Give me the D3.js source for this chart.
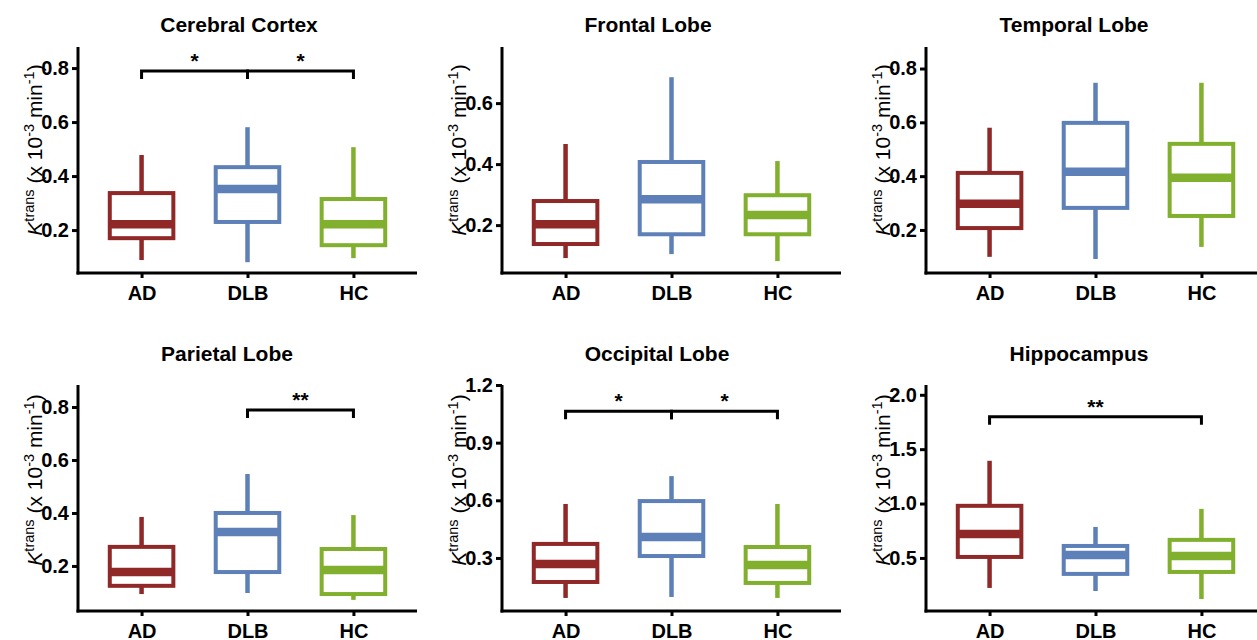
<!DOCTYPE html>
<html>
<head>
<meta charset="utf-8">
<script src="https://cdn.jsdelivr.net/npm/d3@7"></script>
<style>
  html, body { margin: 0; padding: 0; background: #fff; }
  svg { display: block; }
  text { font-family: "Liberation Sans", Arial, sans-serif; fill: #000; }
</style>
</head>
<body>
<svg id="chart" width="1257" height="640"></svg>
<script>
// ---------- data ----------
const categories = ["AD", "DLB", "HC"];
const panelTitles = ["Cerebral Cortex", "Frontal Lobe", "Temporal Lobe",
                     "Parietal Lobe", "Occipital Lobe", "Hippocampus"];
// per panel, per group (AD, DLB, HC)
const lowerWhisker = [[0.089, 0.081, 0.096], [0.092, 0.105, 0.082], [0.100, 0.092, 0.137],
                      [0.094, 0.098, 0.072], [0.092, 0.097, 0.092], [0.224, 0.196, 0.122]];
const q1 = [[0.170, 0.230, 0.144], [0.138, 0.170, 0.170], [0.207, 0.282, 0.252],
            [0.125, 0.177, 0.094], [0.175, 0.310, 0.170], [0.509, 0.353, 0.371]];
const medians = [[0.222, 0.352, 0.222], [0.203, 0.285, 0.233], [0.297, 0.416, 0.394],
                 [0.177, 0.328, 0.185], [0.269, 0.409, 0.264], [0.721, 0.528, 0.518]];
const q3 = [[0.337, 0.433, 0.315], [0.279, 0.407, 0.298], [0.412, 0.598, 0.520],
            [0.272, 0.400, 0.264], [0.373, 0.596, 0.357], [0.979, 0.610, 0.666]];
const upperWhisker = [[0.478, 0.581, 0.507], [0.466, 0.685, 0.410], [0.580, 0.747, 0.747],
                      [0.385, 0.547, 0.392], [0.581, 0.726, 0.581], [1.393, 0.785, 0.951]];
const yDomains = [[0.041, 0.878], [0.043, 0.784], [0.040, 0.880],
                  [0.030, 0.883], [0.024, 1.200], [0.012, 2.090]];
const yTicks = [[0.2, 0.4, 0.6, 0.8], [0.2, 0.4, 0.6], [0.2, 0.4, 0.6, 0.8],
                [0.2, 0.4, 0.6, 0.8], [0.3, 0.6, 0.9, 1.2], [0.5, 1.0, 1.5, 2.0]];
// significance brackets: [panel, fromGroup, toGroup, label, yValue]
const comparisons = [
  [0, "AD", "DLB", "*", 0.789], [0, "DLB", "HC", "*", 0.789],
  [3, "DLB", "HC", "**", 0.789],
  [4, "AD", "DLB", "*", 1.064], [4, "DLB", "HC", "*", 1.064],
  [5, "AD", "HC", "**", 1.798]
];

// ---------- styles / layout ----------
const colors = ["#912828", "#5e80b8", "#80b02d"];
const colX = [78, 502, 926];
const rowTop = [47, 385];
const rowBottom = [273, 611];
const axisLen = 339;
const titleX = [239, 648, 1074, 227, 657, 1079];
const titleY = [32, 361];
const ylabCenter = [150, 480];

const svg = d3.select("#chart");

panelTitles.forEach((title, p) => {
  const r = Math.floor(p / 3), c = p % 3;
  const x0 = colX[c], top = rowTop[r], bottom = rowBottom[r];
  const x = d3.scalePoint().domain(categories).range([x0, x0 + axisLen]).padding(0.6);
  const y = d3.scaleLinear().domain(yDomains[p]).range([bottom, top]);
  const g = svg.append("g");
  const step = x.step();
  const bw = step * 0.6;

  // title
  g.append("text").attr("x", titleX[p]).attr("y", titleY[r])
    .attr("text-anchor", "middle").attr("font-weight", "bold").attr("font-size", 21)
    .text(title);

  // boxes
  categories.forEach((cat, i) => {
    const cx = x(cat);
    const col = colors[i];
    const bg = g.append("g");
    bg.append("line").attr("x1", cx).attr("x2", cx)
      .attr("y1", y(upperWhisker[p][i])).attr("y2", y(q3[p][i]))
      .attr("stroke", col).attr("stroke-width", 4.5);
    bg.append("line").attr("x1", cx).attr("x2", cx)
      .attr("y1", y(q1[p][i])).attr("y2", y(lowerWhisker[p][i]))
      .attr("stroke", col).attr("stroke-width", 4.5);
    bg.append("rect").attr("x", cx - bw / 2).attr("width", bw)
      .attr("y", y(q3[p][i])).attr("height", y(q1[p][i]) - y(q3[p][i]))
      .attr("fill", "#fff").attr("stroke", col).attr("stroke-width", 4);
    bg.append("line").attr("x1", cx - bw / 2).attr("x2", cx + bw / 2)
      .attr("y1", y(medians[p][i])).attr("y2", y(medians[p][i]))
      .attr("stroke", col).attr("stroke-width", 8.5);
  });

  // axes
  const ya = g.append("g").attr("transform", `translate(${x0},0)`)
    .call(d3.axisLeft(y).tickValues(yTicks[p]).tickFormat(d3.format(".1f")).tickSize(6).tickPadding(3));
  ya.select(".domain").remove();
  ya.selectAll(".tick line").attr("stroke", "#000").attr("stroke-width", 3);
  ya.selectAll(".tick text").attr("font-size", 20).attr("font-weight", "bold")
    .attr("font-family", "Liberation Sans, Arial, sans-serif").attr("fill", "#000");

  const xa = g.append("g").attr("transform", `translate(0,${bottom})`)
    .call(d3.axisBottom(x).tickSize(5).tickPadding(8));
  xa.select(".domain").remove();
  xa.selectAll(".tick line").attr("stroke", "#000").attr("stroke-width", 3);
  xa.selectAll(".tick text").attr("font-size", 20).attr("font-weight", "bold")
    .attr("font-family", "Liberation Sans, Arial, sans-serif").attr("fill", "#000");

  g.append("line").attr("x1", x0).attr("x2", x0).attr("y1", top).attr("y2", bottom + 1.5)
    .attr("stroke", "#000").attr("stroke-width", 3);
  g.append("line").attr("x1", x0 - 1.5).attr("x2", x0 + axisLen).attr("y1", bottom).attr("y2", bottom)
    .attr("stroke", "#000").attr("stroke-width", 3);

  // y label
  const lab = g.append("text")
    .attr("transform", `translate(${x0 - 36},${ylabCenter[r]}) rotate(-90)`)
    .attr("text-anchor", "middle").attr("font-size", 21);
  lab.append("tspan").attr("font-style", "italic").text("K");
  lab.append("tspan").attr("font-size", 14.5).attr("dy", -8).text("trans");
  lab.append("tspan").attr("dy", 8).text(" (x 10");
  lab.append("tspan").attr("font-size", 14.5).attr("dy", -8).text("-3");
  lab.append("tspan").attr("dy", 8).text(" min");
  lab.append("tspan").attr("font-size", 14.5).attr("dy", -8).text("-1");
  lab.append("tspan").attr("dy", 8).text(")");

  // significance brackets
  comparisons.filter(cmp => cmp[0] === p).forEach(cmp => {
    const xa1 = x(cmp[1]), xa2 = x(cmp[2]), yb = y(cmp[4]);
    g.append("path")
      .attr("d", `M${xa1},${yb + 8} V${yb} H${xa2} V${yb + 8}`)
      .attr("fill", "none").attr("stroke", "#000").attr("stroke-width", 3);
    g.append("text").attr("x", (xa1 + xa2) / 2).attr("y", yb - 3)
      .attr("text-anchor", "middle").attr("font-size", 21).attr("font-weight", "bold")
      .text(cmp[3]);
  });
});
</script>
</body>
</html>
